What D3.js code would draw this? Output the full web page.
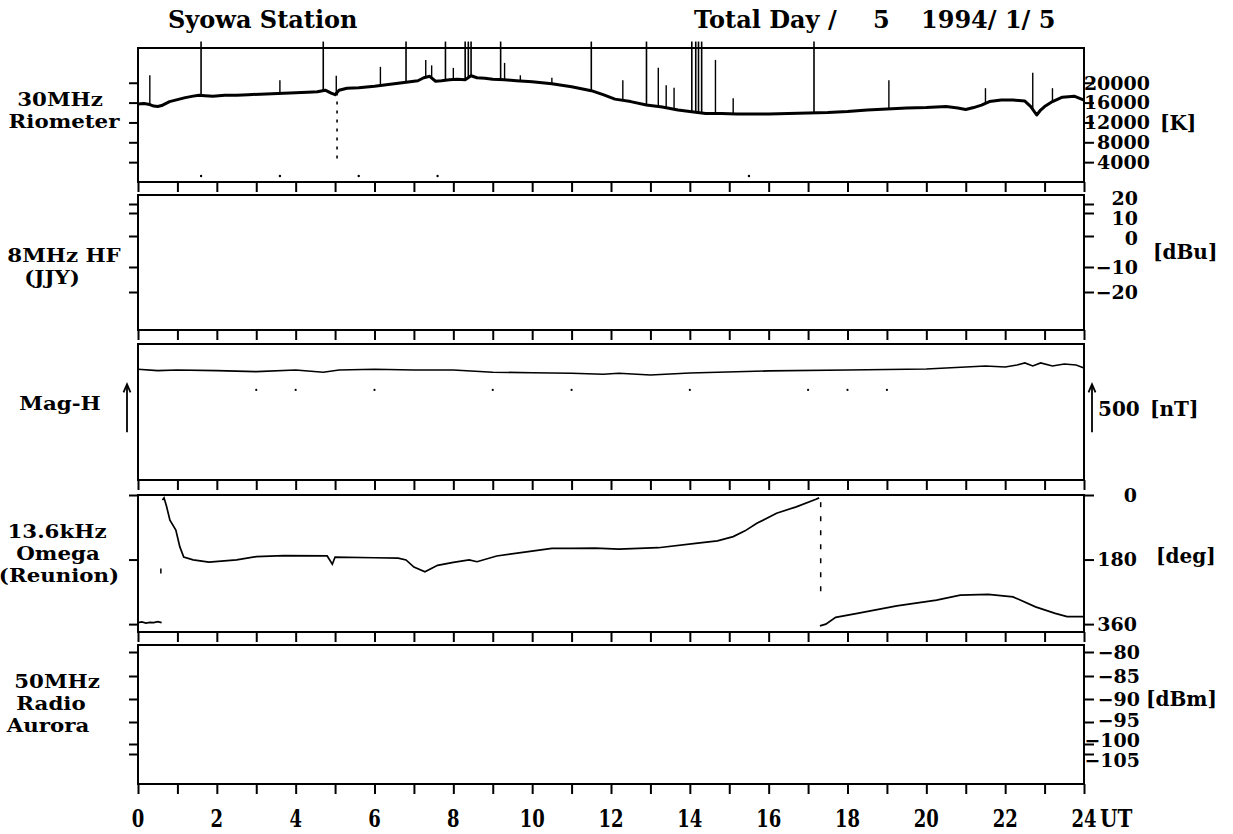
<!DOCTYPE html>
<html><head><meta charset="utf-8">
<script src="https://cdn.jsdelivr.net/npm/d3@7"></script>
<style>
body{margin:0;background:#fff}
text{font-family:"DejaVu Serif",serif;font-weight:bold;fill:#000}
</style></head>
<body><svg id="c" width="1233" height="834"></svg>
<script>
// ---------- DATA ----------
const hourTicks = d3.range(0, 25);
const hourLabels = d3.range(0, 25, 2);

// 30 MHz riometer [K]
const rioHours = [0,0.15,0.3,0.4,0.5,0.6,0.8,1.0,1.2,1.4,1.55,1.7,1.9,2.2,2.5,2.8,3.1,3.4,3.7,4.0,4.3,4.55,4.75,4.9,5.0,5.1,5.3,5.6,6.0,6.3,6.6,6.9,7.1,7.25,7.4,7.55,7.7,7.9,8.1,8.3,8.45,8.6,8.8,9.0,9.3,9.6,10.0,10.5,11.0,11.5,11.8,12.1,12.5,12.9,13.3,13.7,14.0,14.4,14.8,15.2,15.6,16.0,16.5,17.0,17.5,18.0,18.5,19.0,19.5,20.0,20.5,20.8,21.0,21.2,21.4,21.6,21.9,22.2,22.5,22.65,22.8,22.9,23.0,23.2,23.45,23.75,24.0];
const rioK = [15700,15800,15600,15300,15200,15400,16200,16600,17000,17300,17500,17400,17300,17500,17500,17600,17700,17800,17900,18000,18100,18200,18500,17900,17600,18500,18900,19000,19300,19600,19900,20200,20400,21000,21300,20300,20400,20600,20700,20600,21400,21000,20900,20700,20600,20400,20200,19800,19200,18400,17600,16700,16200,15500,15100,14500,14200,13800,13800,13700,13700,13700,13800,13900,14000,14200,14500,14700,14900,15000,15200,14900,14600,15000,15500,16200,16500,16500,16300,15200,13500,14500,15200,16200,17100,17300,16500];
const rioSpikeHours = [0.3,1.6,3.6,4.7,5.03,6.15,6.8,7.3,7.45,7.8,8.0,8.3,8.38,8.45,9.2,9.3,9.7,10.5,11.5,12.3,12.9,13.2,13.4,13.6,14.05,14.15,14.22,14.3,14.65,15.1,17.15,19.05,21.5,22.7,23.2];
const rioSpikeK = [21500,28300,20500,28300,21400,23200,28300,24600,23500,28300,23000,28300,28300,28300,28300,24000,21500,21000,28300,20500,28300,23000,19500,19000,28300,28300,28300,28300,24600,16900,28300,20500,18900,22000,18900];
const rioDropHours = [5.05];
const rioDropK = [4600];
const rioDotHours = [1.6,3.6,5.6,7.6,15.5];
const rioDotK = [1200,1200,1200,1200,1200];
const rioTicks = [20000,16000,12000,8000,4000];

// 8 MHz HF (JJY) [dBu] - no data this day
const hfTicks = [20,10,0,-10,-20];

// Mag-H [nT, relative]
const magHours = [0,0.5,1,2,3,4,4.7,5.1,6,7,8,9,10,11,11.8,12.2,13,14,16,18,20,21.5,22,22.3,22.5,22.7,22.9,23.2,23.5,23.8,24];
const magNT = [10,-4,3,-4,-15,3,-21,3,10,3,3,-21,-26,-32,-43,-32,-50,-29,-7,3,14,46,35,56,78,46,78,46,67,56,25];
const magDotHours = [3,4,6,9,11,14,17,18,19];
const magDotNT = [-210,-210,-210,-210,-210,-210,-210,-210,-210];
const magScaleNT = [-660,-160];   // 500 nT scale bar

// 13.6 kHz Omega (Reunion) [deg]
const om1Hours = [0,0.1,0.2,0.3,0.4,0.5,0.6];
const om1Deg = [356,354,357,355,356,353,356];
const om2Hours = [0.62,0.66,0.72,0.81,0.96,1.06,1.16,1.4,1.8,2.5,3,3.7,4.8,4.93,5.0,6,6.6,6.8,7.0,7.28,7.6,8.0,8.4,8.6,9.1,9.9,10.5,11.0,11.6,12.2,13.2,14.2,14.7,15.1,15.4,15.7,16.2,16.7,17.2,17.28];
const om2Deg = [14,8,30,70,98,144,173,181,187,181,172,169,170,193,173,175,176,181,201,214,196,188,181,186,170,158,149,149,148,151,147,134,128,116,100,79,51,33,12,8];
const om3Hours = [17.3,17.45,17.7,18.25,19.25,20.26,20.86,21.57,22.2,22.77,23.27,23.57,24];
const om3Deg = [365,360,341,330,309,293,279,277,284,312,330,339,339];
const omJumpHours = [0.58,17.32];
const omJumpFrom = [205,20];
const omJumpTo = [232,290];
const omTicks = [0,180,360];

// 50 MHz radio aurora [dBm] - no data this day
const auTicks = [-80,-85,-90,-95,-100,-105];

// ---------- LAYOUT ----------
const svg = d3.select("#c");
const X0 = 138, X1 = 1084;
const P = [{t:48,b:182},{t:195,b:330},{t:344,b:480},{t:495,b:632},{t:645,b:784}];
const x = d3.scaleLinear().domain([0,24]).range([X0,X1]);
const yRio = d3.scaleLinear().domain([0,27000]).range([P[0].b,P[0].t]);
const yHF  = d3.scaleLinear().domain([20,10,0,-10,-20]).range([204,213,236,267,292]);
const yMag = d3.scaleLinear().domain([-1170,280]).range([P[2].b,P[2].t]);
const yOm  = d3.scaleLinear().domain([0,382]).range([P[3].t,P[3].b]);
const yAu  = d3.scaleLinear().domain([-80,-85,-90,-95,-100,-105]).range([652,676,699,722,744,754]);

function spread(ys, gap){
  const o = ys.slice();
  for(let it=0; it<60; it++){
    for(let i=0;i<o.length-1;i++){
      const d=o[i+1]-o[i];
      if(d<gap){const m=(gap-d)/2;o[i]-=m;o[i+1]+=m;}
    }
  }
  return o;
}
function ctext(str, cx, y, size, sx, sy, anchor){
  svg.append("g").attr("transform",`translate(${cx},${y}) scale(${sx},${sy})`)
    .append("text").attr("text-anchor",anchor||"middle").attr("font-size",size).text(str);
}

// hour ticks below each panel
P.forEach((p,i)=>{
  const g = svg.append("g").attr("transform",`translate(0,${p.b})`)
    .call(d3.axisBottom(x).tickValues(hourTicks).tickSize(10).tickFormat(""));
  g.select(".domain").remove();
  g.selectAll("line").attr("stroke","#000").attr("stroke-width",2);
  g.selectAll("text").remove();
});
// bottom hour labels
hourLabels.forEach(h=> ctext(String(h), x(h), 827, 25, 0.72, 1));
ctext("UT", x(24)+16, 827, 25, 0.8, 1, "start");

// side ticks
function sideTicks(scale, ticks){
  const gl = svg.append("g").attr("transform",`translate(${X0},0)`)
    .call(d3.axisLeft(scale).tickValues(ticks).tickSize(9).tickFormat(""));
  gl.select(".domain").remove(); gl.selectAll("line").attr("stroke","#000").attr("stroke-width",2);
  const gr = svg.append("g").attr("transform",`translate(${X1},0)`)
    .call(d3.axisRight(scale).tickValues(ticks).tickSize(10).tickFormat(""));
  gr.select(".domain").remove(); gr.selectAll("line").attr("stroke","#000").attr("stroke-width",2);
}
sideTicks(yRio, rioTicks);
sideTicks(yHF, hfTicks);
sideTicks(yOm, omTicks);
sideTicks(yAu, auTicks);

// right tick labels
function rightLabels(scale, ticks, xr, gap){
  const ys = spread(ticks.map(scale), gap);
  ticks.forEach((t,i)=>{
    svg.append("text").attr("x",xr).attr("y",ys[i]).attr("dy","0.36em")
      .attr("text-anchor","end").attr("font-size",19)
      .text(t<0? "\u2212"+Math.abs(t) : String(t));
  });
}
rightLabels(yRio, rioTicks, 1150, 18);
rightLabels(yHF, hfTicks, 1138, 20);
rightLabels(yOm, omTicks, 1137, 20);
rightLabels(yAu, auTicks, 1140, 20);

// unit labels
const magMid = yMag((magScaleNT[0]+magScaleNT[1])/2);
svg.append("text").attr("x",1160).attr("y",yRio(12000)).attr("dy","0.36em").attr("font-size",20).text("[K]");
svg.append("text").attr("x",1153).attr("y",(yHF(0)+yHF(-10))/2).attr("dy","0.36em").attr("font-size",20).text("[dBu]");
svg.append("text").attr("x",1150).attr("y",magMid).attr("dy","0.36em").attr("font-size",20).text("[nT]");
svg.append("text").attr("x",1098).attr("y",magMid).attr("dy","0.36em").attr("font-size",20).text("500");
svg.append("text").attr("x",1156).attr("y",yOm(180)-4).attr("dy","0.36em").attr("font-size",20).text("[deg]");
svg.append("text").attr("x",1146).attr("y",yAu(-90)).attr("dy","0.36em").attr("font-size",20).text("[dBm]");

// left labels
[["30MHz",60,106],["Riometer",64,128],["8MHz HF",64,262],["(JJY)",52,284],["Mag-H",60,410],
 ["13.6kHz",57,538],["Omega",58,560],["(Reunion)",59,582],["50MHz",57,688],["Radio",51,710],["Aurora",48,732]]
 .forEach(d=> ctext(d[0], d[1], d[2], 22, 0.97, 0.85));

// titles
svg.append("text").attr("x",168).attr("y",28).attr("font-size",24).text("Syowa Station");
svg.append("text").attr("x",694).attr("y",28).attr("font-size",24).text("Total Day /");
svg.append("text").attr("x",873).attr("y",28).attr("font-size",24).text("5");
svg.append("text").attr("x",921).attr("y",28).attr("font-size",24).attr("xml:space","preserve").style("white-space","pre").text("1994/ 1/ 5");

// ---------- MARKS ----------
const line = (ys)=> d3.line().x(d=>x(d[0])).y(d=>ys(d[1]));
const zip = (a,b)=> a.map((v,i)=>[v,b[i]]);

// riometer
const rio = zip(rioHours, rioK);
svg.append("path").datum(rio).attr("d",line(yRio)).attr("fill","none").attr("stroke","#000").attr("stroke-width",3).attr("stroke-linejoin","round");
const rioAt = h=>{const i=d3.bisectLeft(rioHours,h); if(i<=0) return rioK[0]; const t=(h-rioHours[i-1])/(rioHours[i]-rioHours[i-1]); return rioK[i-1]+t*(rioK[i]-rioK[i-1]);};
rioSpikeHours.forEach((h,i)=>{
  svg.append("line").attr("x1",x(h)).attr("x2",x(h)).attr("y1",yRio(rioAt(h))).attr("y2",yRio(rioSpikeK[i]))
    .attr("stroke","#000").attr("stroke-width",rioSpikeK[i]>27000?1.6:1.4);
});
rioDropHours.forEach((h,i)=>{
  svg.append("line").attr("x1",x(h)).attr("x2",x(h)).attr("y1",yRio(rioAt(h))).attr("y2",yRio(rioDropK[i]))
    .attr("stroke","#000").attr("stroke-width",1.6).attr("stroke-dasharray","3,6");
});
svg.selectAll(".rdot").data(zip(rioDotHours,rioDotK)).enter().append("circle")
  .attr("cx",d=>x(d[0])).attr("cy",d=>yRio(d[1])).attr("r",1.2).attr("fill","#000");

// mag-H
svg.append("path").datum(zip(magHours,magNT)).attr("d",line(yMag)).attr("fill","none").attr("stroke","#000").attr("stroke-width",1.6);
svg.selectAll(".mdot").data(zip(magDotHours,magDotNT)).enter().append("circle")
  .attr("cx",d=>x(d[0])).attr("cy",d=>yMag(d[1])).attr("r",1.1).attr("fill","#000");
[127,1092].forEach(ax=>{
  const yb = yMag(magScaleNT[0]), yt = yMag(magScaleNT[1]);
  svg.append("line").attr("x1",ax).attr("x2",ax).attr("y1",yb).attr("y2",yt)
    .attr("stroke","#000").attr("stroke-width",1.8);
  svg.append("path").attr("d",`M${ax-3.5},${yt+7} L${ax},${yt-1} L${ax+3.5},${yt+7}`)
    .attr("fill","none").attr("stroke","#000").attr("stroke-width",1.8);
});

// omega
[[om1Hours,om1Deg],[om2Hours,om2Deg],[om3Hours,om3Deg]].forEach(s=>{
  svg.append("path").datum(zip(s[0],s[1])).attr("d",line(yOm)).attr("fill","none").attr("stroke","#000").attr("stroke-width",1.7);
});
omJumpHours.forEach((h,i)=>{
  svg.append("line").attr("x1",x(h)).attr("x2",x(h)).attr("y1",yOm(omJumpFrom[i])).attr("y2",yOm(omJumpTo[i]))
    .attr("stroke","#000").attr("stroke-width",1.5).attr("stroke-dasharray","5,9");
});

// panel frames
P.forEach(p=> svg.append("rect").attr("x",X0).attr("y",p.t).attr("width",X1-X0).attr("height",p.b-p.t)
  .attr("fill","none").attr("stroke","#000").attr("stroke-width",2));
</script></body></html>
